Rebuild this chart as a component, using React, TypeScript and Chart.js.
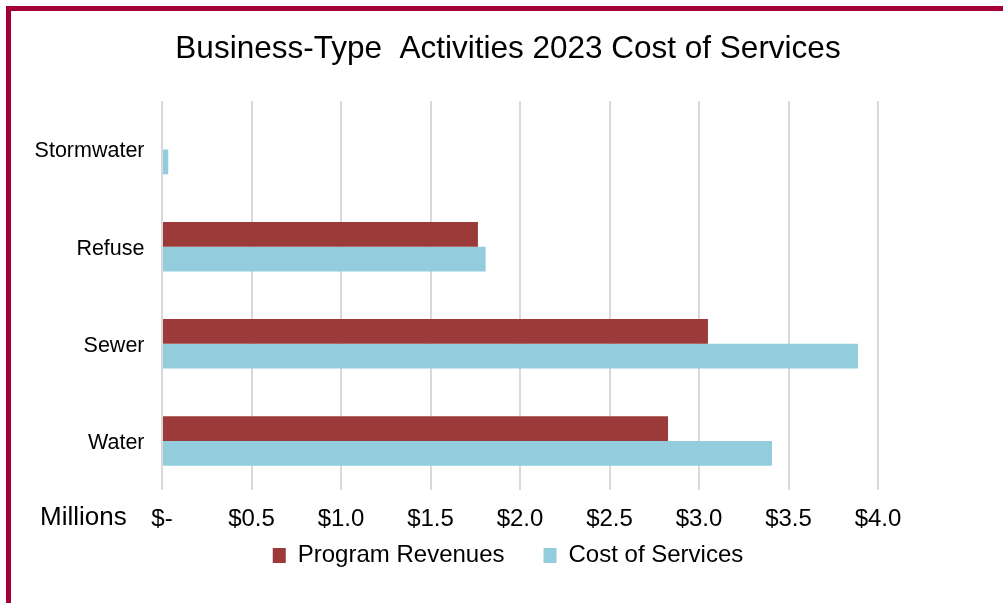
import React, { useEffect, useRef } from "react";
import { Chart, registerables } from "chart.js";

Chart.register(...registerables);

const categories = ["Stormwater", "Refuse", "Sewer", "Water"];
const programRevenues = [null, 1.765, 3.05, 2.827];
const costOfServices = [0.035, 1.808, 3.888, 3.408];
const seriesNames = ["Program Revenues", "Cost of Services"];
const chartTitle = "Business-Type  Activities 2023 Cost of Services";
const unitLabel = "Millions";

const FONT = "'Liberation Sans', Arial, sans-serif";

const unitPlugin = {
  id: "unitLabel",
  afterLayout(chart: any) {
    const lg = chart.legend;
    if (lg) {
      const d = lg.top - 504.5;
      lg.top -= d;
      lg.bottom -= d;
    }
  },
  afterDraw(chart: any) {
    const ctx = chart.ctx;
    ctx.save();
    ctx.font = `26px ${FONT}`;
    ctx.fillStyle = "#000";
    ctx.textAlign = "left";
    ctx.textBaseline = "middle";
    ctx.fillText(unitLabel, 40, 518);
    ctx.restore();
  },
};

export default function App() {
  const ref = useRef<HTMLCanvasElement | null>(null);
  useEffect(() => {
    if (!ref.current) return;
    const chart = new Chart(ref.current, {
      type: "bar",
      data: {
        labels: categories,
        datasets: [
          {
            label: seriesNames[0],
            data: programRevenues as any,
            backgroundColor: "#9C3A39",
            borderWidth: 0,
          },
          {
            label: seriesNames[1],
            data: costOfServices,
            backgroundColor: "#93CDDD",
            borderWidth: 0,
          },
        ],
      },
      options: {
        indexAxis: "y",
        responsive: false,
        animation: false,
        layout: { padding: { left: 13, right: 0, top: 0, bottom: -3 } },
        datasets: {
          bar: { categoryPercentage: 0.51, barPercentage: 1.0 },
        },
        scales: {
          x: {
            min: 0,
            max: 4,
            border: { display: false },
            grid: { color: "#D9D9D9", lineWidth: 2, drawTicks: false },
            ticks: {
              stepSize: 0.5,
              padding: 15.5,
              maxRotation: 0,
              autoSkip: false,
              color: "#000",
              font: { family: FONT, size: 24 },
              callback: (v: any) => (Number(v) === 0 ? "$-" : "$" + Number(v).toFixed(1)),
            },
            afterFit(s: any) {
              s.height = 43.5;
            },
          },
          y: {
            border: { display: false },
            grid: { display: false, drawTicks: false },
            ticks: {
              padding: 17.5,
              labelOffset: 2,
              color: "#000",
              font: { family: FONT, size: 21.5 },
            },
            afterFit(s: any) {
              s.width = 149;
            },
          },
          y2: {
            type: "category",
            labels: categories,
            position: "right",
            border: { display: false },
            grid: { display: false, drawTicks: false },
            ticks: { display: false },
            afterFit(s: any) {
              s.width = 125;
            },
          },
        },
        plugins: {
          title: {
            display: true,
            text: chartTitle,
            color: "#000",
            font: { family: FONT, size: 31.5, weight: "normal" },
            padding: { top: 30.6, bottom: 32.6 },
          },
          legend: {
            display: true,
            position: "bottom",
            labels: {
              boxWidth: 13,
              boxHeight: 15,
              padding: 39,
              color: "#000",
              font: { family: FONT, size: 24 },
            },
          },
          tooltip: { enabled: false },
        },
      },
      plugins: [unitPlugin],
    } as any);
    return () => chart.destroy();
  }, []);

  return (
    <div
      style={{
        position: "fixed",
        left: 0,
        top: 0,
        width: 1003,
        height: 603,
        background: "#fff",
        overflow: "hidden",
      }}
    >
      <canvas ref={ref} width={1003} height={603} style={{ display: "block" }} />
      <div
        style={{
          position: "absolute",
          left: 6,
          top: 6,
          width: 1100,
          height: 700,
          borderTop: "5px solid #A50034",
          borderLeft: "5px solid #A50034",
          pointerEvents: "none",
        }}
      />
    </div>
  );
}
